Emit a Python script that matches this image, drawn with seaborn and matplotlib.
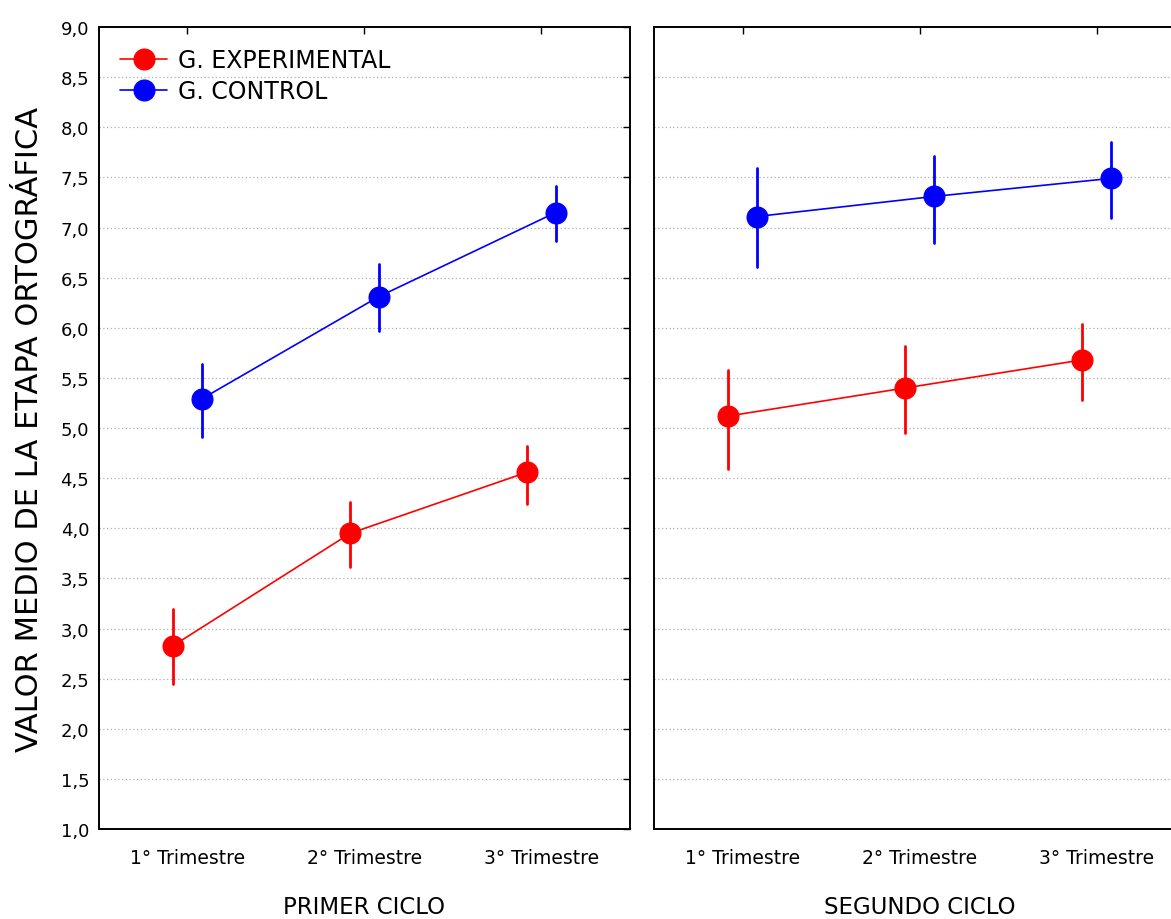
import numpy as np
import pandas as pd
import matplotlib
matplotlib.use("Agg")
import matplotlib.pyplot as plt
import matplotlib.ticker as mticker
import seaborn as sns

# Datos (media y limites del intervalo)
trimestres = ["1° Trimestre", "2° Trimestre", "3° Trimestre"]
grupos = ["G. EXPERIMENTAL", "G. CONTROL"]
ciclos = ["PRIMER CICLO", "SEGUNDO CICLO"]

primer_exp_media = [2.83, 3.95, 4.56]
primer_exp_inf = [2.45, 3.61, 4.24]
primer_exp_sup = [3.19, 4.26, 4.82]

primer_ctrl_media = [5.29, 6.31, 7.15]
primer_ctrl_inf = [4.91, 5.97, 6.87]
primer_ctrl_sup = [5.64, 6.64, 7.41]

segundo_exp_media = [5.12, 5.40, 5.68]
segundo_exp_inf = [4.59, 4.95, 5.28]
segundo_exp_sup = [5.58, 5.82, 6.04]

segundo_ctrl_media = [7.11, 7.31, 7.49]
segundo_ctrl_inf = [6.61, 6.85, 7.10]
segundo_ctrl_sup = [7.59, 7.71, 7.85]

series = {
    ("PRIMER CICLO", "G. EXPERIMENTAL"): (primer_exp_inf, primer_exp_media, primer_exp_sup),
    ("PRIMER CICLO", "G. CONTROL"): (primer_ctrl_inf, primer_ctrl_media, primer_ctrl_sup),
    ("SEGUNDO CICLO", "G. EXPERIMENTAL"): (segundo_exp_inf, segundo_exp_media, segundo_exp_sup),
    ("SEGUNDO CICLO", "G. CONTROL"): (segundo_ctrl_inf, segundo_ctrl_media, segundo_ctrl_sup),
}

# Tabla larga: inf, media y sup por celda -> mediana = media, pi 100 = intervalo
filas = []
for (ciclo, grupo), (inf, media, sup) in series.items():
    for i, t in enumerate(trimestres):
        for v in (inf[i], media[i], sup[i]):
            filas.append({"ciclo": ciclo, "grupo": grupo, "trimestre": t, "valor": v})
df = pd.DataFrame(filas)

sns.set_style("white")
plt.rcParams["font.family"] = ["DejaVu Sans"]
plt.rcParams["text.color"] = "black"
plt.rcParams["axes.labelcolor"] = "black"
plt.rcParams["xtick.color"] = "black"
plt.rcParams["ytick.color"] = "black"

fig = plt.figure(figsize=(11.71, 9.2), dpi=100)
ax1 = fig.add_axes([0.0845, 0.0978, 0.4535, 0.8717])
ax2 = fig.add_axes([0.5585, 0.0978, 0.4535, 0.8717])

colores = {"G. EXPERIMENTAL": "#ff0000", "G. CONTROL": "#0000ff"}

for ax, ciclo in zip([ax1, ax2], ciclos):
    sub = df[df["ciclo"] == ciclo]
    sns.pointplot(data=sub, x="trimestre", y="valor", hue="grupo",
                  order=trimestres, hue_order=grupos, palette=colores,
                  estimator="median", errorbar=("pi", 100), dodge=0.16,
                  markers="o", markersize=15, linewidth=1.2,
                  err_kws={"linewidth": 2.0}, ax=ax)
    ax.set_ylim(1, 9)
    ax.set_xlim(-0.5, 2.5)
    ax.yaxis.set_major_locator(mticker.MultipleLocator(0.5))
    ax.yaxis.set_major_formatter(mticker.FuncFormatter(lambda v, p: f"{v:.1f}".replace(".", ",")))
    ax.grid(axis="y", linestyle=(0, (1, 2)), color="#b0b0b0", linewidth=0.9)
    ax.set_axisbelow(True)
    for s in ax.spines.values():
        s.set_color("black")
        s.set_linewidth(1.4)
    ax.tick_params(axis="both", direction="in", length=5, width=1, color="black",
                   top=True, right=True)
    ax.tick_params(axis="x", labelsize=13.5, pad=14)
    ax.tick_params(axis="y", labelsize=13, pad=7)
    ax.set_xlabel(ciclo, fontsize=16.5, labelpad=20)
    ax.set_ylabel("")

ax1.set_ylabel("VALOR MEDIO DE LA ETAPA ORTOGRÁFICA", fontsize=22)
ax1.yaxis.set_label_coords(-0.104, 0.5)
ax2.tick_params(axis="y", labelleft=False)
ax2.get_legend().remove()

handles, labels = ax1.get_legend_handles_labels()
ax1.legend(handles, labels, loc="upper left", frameon=False, fontsize=17,
           bbox_to_anchor=(0.0, 1.0), handlelength=2.0, handletextpad=0.45,
           labelspacing=0.3, borderaxespad=0.3, borderpad=0.6)

plt.savefig("out.png", dpi=100)
